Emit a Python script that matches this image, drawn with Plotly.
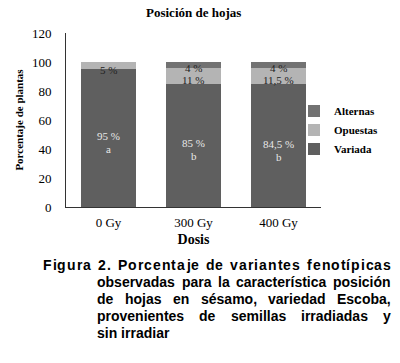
import plotly.graph_objects as go

# ---- data ----
doses = ["0 Gy", "300 Gy", "400 Gy"]
variada = [95, 85, 84.5]
opuestas = [5, 11, 11.5]
alternas = [0, 4, 4]
letters = ["a", "b", "b"]
variada_lbl = ["95 %", "85 %", "84,5 %"]
opuestas_lbl = ["5 %", "11 %", "11,5 %"]
alternas_lbl = ["", "4 %", "4 %"]

caption_lines = [
    "Figura 2. Porcentaje de variantes fenotípicas",
    "observadas para la característica posición",
    "de hojas en sésamo, variedad Escoba,",
    "provenientes de semillas irradiadas y",
    "sin irradiar",
]

C_VAR = "#5f5f5f"
C_OPU = "#b4b4b4"
C_ALT = "#727272"
SERIF = "Liberation Serif, Times New Roman, serif"
SANS = "Liberation Sans, Arial, sans-serif"

W, H = 400, 363
L, R, T, B = 66, 321, 33, 207  # plot area pixels

fig = go.Figure()
fig.add_bar(x=doses, y=variada, name="Variada", marker_color=C_VAR, marker_line_width=0)
fig.add_bar(x=doses, y=opuestas, name="Opuestas", marker_color=C_OPU, marker_line_width=0)
fig.add_bar(x=doses, y=alternas, name="Alternas", marker_color=C_ALT, marker_line_width=0)

ann = []
for i, d in enumerate(doses):
    ann.append(dict(x=d, y=variada[i] / 2 + 1.5, text=variada_lbl[i], showarrow=False,
                    font=dict(family=SERIF, size=11, color="#e8e8e8"), xref="x", yref="y"))
    ann.append(dict(x=d, y=variada[i] / 2 - 7.5, text=letters[i], showarrow=False,
                    font=dict(family=SERIF, size=11, color="#e8e8e8"), xref="x", yref="y"))
    if alternas[i] > 0:
        ann.append(dict(x=d, y=variada[i] + opuestas[i] + alternas[i] - 4.2, text=alternas_lbl[i],
                        showarrow=False, font=dict(family=SERIF, size=11, color="#222"),
                        xref="x", yref="y"))
        ann.append(dict(x=d, y=variada[i] + opuestas[i] / 2 - 3.0, text=opuestas_lbl[i],
                        showarrow=False, font=dict(family=SERIF, size=11, color="#222"),
                        xref="x", yref="y"))
    else:
        ann.append(dict(x=d, y=variada[i] + opuestas[i] / 2 - 3.2, text=opuestas_lbl[i],
                        showarrow=False, font=dict(family=SERIF, size=11, color="#222"),
                        xref="x", yref="y"))

# ---- justified caption (Arial Bold metrics, per 1000 em) ----
AW = {' ': 278, '.': 278, ',': 278, '2': 556, 'F': 611, 'E': 667, 'P': 667,
      'a': 556, 'b': 611, 'c': 556, 'd': 611, 'e': 556, 'f': 333, 'g': 611, 'h': 611,
      'i': 278, 'j': 278, 'k': 556, 'l': 278, 'm': 889, 'n': 611, 'o': 611, 'p': 611,
      'q': 611, 'r': 389, 's': 556, 't': 333, 'u': 611, 'v': 556, 'w': 778, 'x': 556,
      'y': 556, 'z': 500, 'í': 278, 'é': 556, 'ó': 611}
FS = 14
SPACING = [1.0, 0, 0, 0, 0]  # letter spacing per line (px)


def cw(c):
    return AW.get(c, 556) * FS / 1000.0


def px2x(px):
    return (px - L) / (R - L)


def py2y(py):
    return (B - py) / (B - T)


def txt(x, y, s):
    return dict(x=px2x(x), y=py2y(y), xref="paper", yref="paper",
                xanchor="left", yanchor="middle", text="<b>%s</b>" % s,
                showarrow=False, font=dict(family=SANS, size=FS, color="#000"))


cap_y = [265, 282, 299, 316, 333]
for li, line in enumerate(caption_lines):
    words = line.split(" ")
    x0 = 41 if li == 0 else 95
    x1 = 389
    if li == len(caption_lines) - 1:
        ann.append(txt(x0, cap_y[li], line))
        continue
    sp = SPACING[li]
    widths = [sum(cw(c) for c in w) + sp * (len(w) - 1) for w in words]
    gap = (x1 - x0 - sum(widths)) / (len(words) - 1)
    x = x0
    for w, wd in zip(words, widths):
        if sp > 0:
            cx = x
            for c in w:
                ann.append(txt(cx, cap_y[li], c))
                cx += cw(c) + sp
        else:
            ann.append(txt(x, cap_y[li], w))
        x += wd + gap

# Title
ann.append(dict(x=px2x(193), y=py2y(13), xref="paper", yref="paper", xanchor="center",
                yanchor="middle", text="<b>Posición de hojas</b>",
                showarrow=False, font=dict(family=SERIF, size=13, color="#000")))

fig.update_layout(
    width=W, height=H,
    margin=dict(l=L, r=W - R, t=T, b=H - B, pad=0, autoexpand=False),
    barmode="stack", bargap=0.36,
    plot_bgcolor="white", paper_bgcolor="white",
    showlegend=True,
    legend=dict(xref="container", yref="container", x=294 / W, xanchor="left",
                y=1 - 130 / H, yanchor="middle",
                traceorder="reversed",
                font=dict(family=SERIF, size=11, color="#000", weight="bold"),
                itemwidth=30, tracegroupgap=0, bgcolor="rgba(0,0,0,0)"),
    annotations=ann,
    xaxis=dict(showline=True, linecolor="#333", linewidth=1, ticks="", showgrid=False,
               automargin=False, ticklabelstandoff=3,
               tickfont=dict(family=SERIF, size=13, color="#000"),
               title=dict(text="<b>Dosis</b>", font=dict(family=SERIF, size=14, color="#000"),
                          standoff=5)),
    yaxis=dict(range=[0, 120], dtick=20, showline=True, linecolor="#333", linewidth=1,
               ticks="", showgrid=False, zeroline=False, automargin=False,
               ticklabelstandoff=11,
               tickfont=dict(family=SERIF, size=13, color="#000"),
               title=dict(text="<b>Porcentaje de plantas</b>",
                          font=dict(family=SERIF, size=11, color="#000"), standoff=6)),
)

fig.write_html("out.html", config={"displayModeBar": False},
               post_script="document.body.style.margin='0';")
